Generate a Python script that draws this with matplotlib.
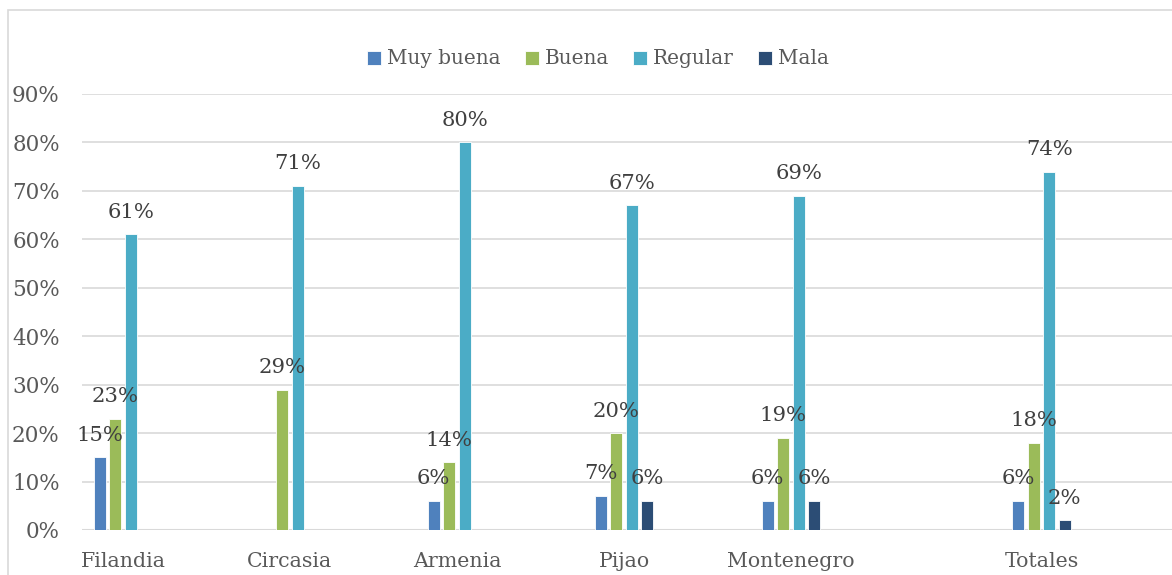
import matplotlib
matplotlib.use("Agg")
import matplotlib.pyplot as plt
from matplotlib.patches import Rectangle
import numpy as np

categories = ["Filandia", "Circasia", "Armenia", "Pijao", "Montenegro", "Totales"]
series_names = ["Muy buena", "Buena", "Regular", "Mala"]
muy_buena = [15, None, 6, 7, 6, 6]
buena = [23, 29, 14, 20, 19, 18]
regular = [61, 71, 80, 67, 69, 74]
mala = [None, None, None, 6, 6, 2]
yticks = [0, 10, 20, 30, 40, 50, 60, 70, 80, 90]

colors = ["#4F81BD", "#9BBB59", "#4BACC6", "#2C4D75"]
all_series = [muy_buena, buena, regular, mala]

plt.rcParams['font.family'] = ['DejaVu Serif']

fig = plt.figure(figsize=(11.72, 5.75), dpi=100)
ax = fig.add_axes([82/1172, 1-530/575, 1-82/1172, (530-94)/575])

# category centres (Totales stands apart)
xpos = np.array([0, 1, 2, 3, 4, 5.5])
step = 15.5/167
width = 12/167
for i, (vals, c, name) in enumerate(zip(all_series, colors, series_names)):
    off = (i - 1.5) * step
    xs, hs = [], []
    for x, v in zip(xpos, vals):
        if v is not None:
            xs.append(x + off); hs.append(v)
    ax.bar(xs, hs, width=width, color=c, edgecolor="white", linewidth=0.6, label=name, zorder=3)
    for x, h in zip(xs, hs):
        ax.text(x, h + 2.6, f"{h}%", ha="center", va="bottom", fontsize=15.2, color="#404040", zorder=4)

ax.set_ylim(0, 90)
ax.set_xlim(-41/167, (1172-123)/167)
ax.set_yticks(yticks)
ax.set_yticklabels([f"{t}%" for t in yticks], fontsize=15.5, color="#595959")
ax.set_xticks(xpos)
ax.set_xticklabels(categories, fontsize=14.8, color="#595959")
ax.tick_params(axis="both", length=0)
ax.tick_params(axis="y", pad=16)
ax.tick_params(axis="x", pad=16)
ax.grid(axis="y", color="#D9D9D9", linewidth=1.2, zorder=0)
for s in ax.spines.values():
    s.set_visible(False)
ax.axhline(0, color="#D9D9D9", linewidth=1.5, zorder=2)

leg = fig.legend(loc="center", bbox_to_anchor=(598/1172, 1-59/575), ncol=4, frameon=False,
                 fontsize=14.4, handlelength=0.7, handleheight=0.7, handletextpad=0.3,
                 columnspacing=1.2)
for t in leg.get_texts():
    t.set_color("#595959")

fig.patches.append(Rectangle((8/1172, -0.1), 1.2, 1-10/575+0.1, transform=fig.transFigure,
                             fill=False, edgecolor="#D9D9D9", linewidth=1.2))

fig.savefig("out.png", dpi=100)
